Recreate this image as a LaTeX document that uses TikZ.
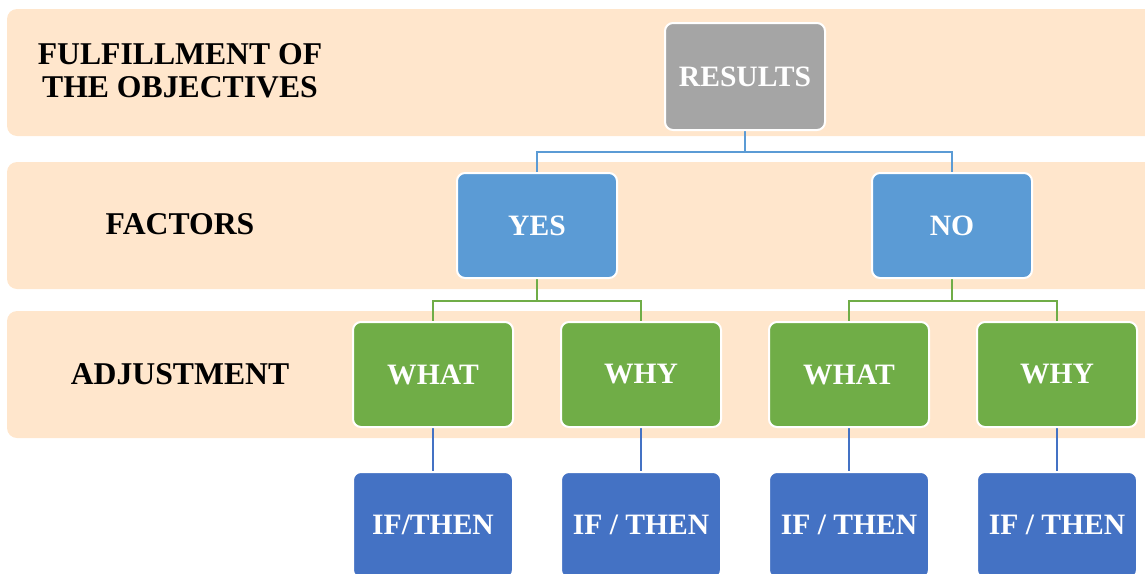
\documentclass[tikz,border=0pt]{standalone}
\usepackage{fontspec}
\setmainfont{Liberation Serif}
\pgfdeclarelayer{background}
\pgfsetlayers{background,main}
\definecolor{bandc}{RGB}{255,230,204}
\definecolor{resgray}{RGB}{165,165,165}
\definecolor{lblue}{RGB}{91,155,213}
\definecolor{lgreen}{RGB}{112,173,71}
\definecolor{dblue}{RGB}{68,114,196}
\begin{document}
\begin{tikzpicture}[x=1pt,y=-1pt,
  band/.style={fill=bandc, rounded corners=10pt},
  bandlabel/.style={text=black, align=center, inner sep=0pt,
    font=\fontsize{31.7}{33}\selectfont\bfseries},
  box/.style={draw=white, line width=2pt, rounded corners=8pt,
    minimum width=160pt, minimum height=105pt, inner sep=0pt,
    text=white, font=\fontsize{29.6}{31}\selectfont\bfseries},
  resbox/.style={box, fill=resgray, minimum height=107pt},
  facbox/.style={box, fill=lblue},
  adjbox/.style={box, fill=lgreen},
  ifbox/.style={box, fill=dblue, minimum height=106pt},
  link/.style={line width=2.3pt}
]
\useasboundingbox (0,0) rectangle (1145,573);

% row labels
\node[bandlabel] (lobj) at (180,71) {FULFILLMENT OF\\THE OBJECTIVES};
\node[bandlabel] (lfac) at (180,224) {FACTORS};
\node[bandlabel] (ladj) at (180,374) {ADJUSTMENT};

% tree boxes
\node[resbox] (res) at (745,76.5) {RESULTS};
\node[facbox] (yes) at (537,225.5) {YES};
\node[facbox] (no)  at (952,225.5) {NO};
\node[adjbox] (what1) at (433,374.5) {WHAT};
\node[adjbox] (why1)  at (641,374.5) {WHY};
\node[adjbox] (what2) at (849,374.5) {WHAT};
\node[adjbox] (why2)  at (1057,374.5) {WHY};
\node[ifbox] (if1) at (433,525) {IF/THEN};
\node[ifbox] (if2) at (641,525) {IF / THEN};
\node[ifbox] (if3) at (849,525) {IF / THEN};
\node[ifbox] (if4) at (1057,525) {IF / THEN};

\begin{pgfonlayer}{background}
  % horizontal bands
  \fill[band] (7,9) rectangle (1165,136);
  \fill[band] (7,162) rectangle (1165,289);
  \fill[band] (7,311) rectangle (1165,438);
  % connectors
  \draw[link, lblue] (res.south) -- ++(0,21) -| (yes.north);
  \draw[link, lblue] (res.south) -- ++(0,21) -| (no.north);
  \draw[link, lgreen] (yes.south) -- ++(0,22) -| (what1.north);
  \draw[link, lgreen] (yes.south) -- ++(0,22) -| (why1.north);
  \draw[link, lgreen] (no.south) -- ++(0,22) -| (what2.north);
  \draw[link, lgreen] (no.south) -- ++(0,22) -| (why2.north);
  \draw[link, dblue] (what1.south) -- (if1.north);
  \draw[link, dblue] (why1.south) -- (if2.north);
  \draw[link, dblue] (what2.south) -- (if3.north);
  \draw[link, dblue] (why2.south) -- (if4.north);
\end{pgfonlayer}
\end{tikzpicture}
\end{document}
